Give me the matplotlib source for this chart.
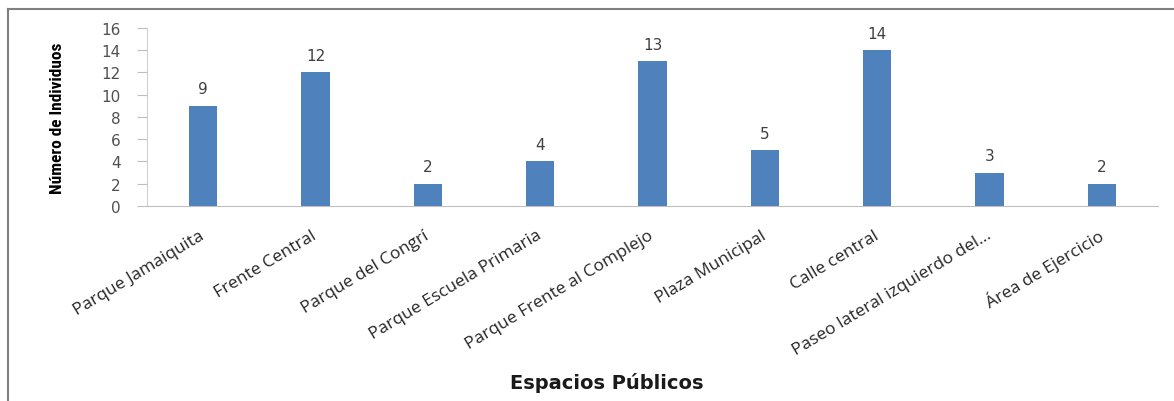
import matplotlib.pyplot as plt
from matplotlib.lines import Line2D

espacios = ['Parque Jamaiquita', 'Frente Central', 'Parque del Congrí',
            'Parque Escuela Primaria', 'Parque Frente al Complejo',
            'Plaza Municipal', 'Calle central',
            'Paseo lateral izquierdo del...', 'Área de Ejercicio']
individuos = [9, 12, 2, 4, 13, 5, 14, 3, 2]

fig = plt.figure(figsize=(11.74, 4.02), dpi=100)
ax = fig.add_axes([0.1252, 0.4851, 0.8612, 0.4428])

x = range(len(espacios))
bars = ax.bar(x, individuos, width=0.25, color='#4F81BD')
ax.bar_label(bars, labels=[str(v) for v in individuos], padding=7,
             fontsize=11, color='#404040', family='DejaVu Sans')

ax.set_xlim(-0.5, len(espacios) - 0.5)
ax.set_ylim(0, 16)
ax.set_yticks(range(0, 17, 2))
ax.tick_params(axis='y', length=7, color='#BFBFBF', labelsize=11,
               labelcolor='#505050', pad=12)
ax.set_xticks(list(x))
ax.set_xticklabels(espacios, rotation=31, ha='right', va='center',
                   rotation_mode='anchor', fontsize=12.5, family='Open Sans',
                   color='#262626')
ax.tick_params(axis='x', length=0, pad=20)

for s in ['top', 'right']:
    ax.spines[s].set_visible(False)
ax.spines['left'].set_color('#D0D0D0')
ax.spines['bottom'].set_color('#BFBFBF')

ax.set_ylabel('Número de Individuos', fontsize=12.5, fontweight='bold',
              fontstretch='condensed',
              family=['Liberation Sans Narrow', 'Roboto Condensed', 'DejaVu Sans'],
              labelpad=26)
fig.text(0.517, 0.047, 'Espacios Públicos', ha='center', va='center',
         fontsize=14, fontweight='bold', family='DejaVu Sans', color='#1a1a1a')

# frame around the chart area
fig.add_artist(Line2D([0.007, 0.007], [0.0, 0.975], color='#808080', lw=1.5,
                      transform=fig.transFigure))
fig.add_artist(Line2D([0.007, 1.0], [0.975, 0.975], color='#808080', lw=1.5,
                      transform=fig.transFigure))

fig.savefig('out.png', dpi=100)
